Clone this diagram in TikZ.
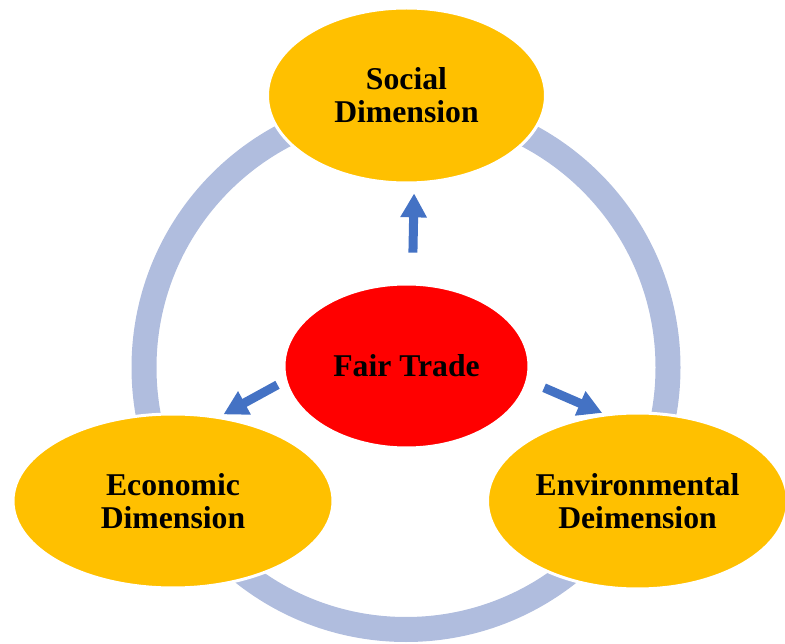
\documentclass[tikz,border=0pt]{standalone}
\usepackage{fontspec}
\setmainfont{Liberation Serif}
\usetikzlibrary{shapes.geometric,arrows.meta,positioning}
\definecolor{gold}{HTML}{FFC000}
\definecolor{ringblue}{HTML}{B0BDDE}
\definecolor{arrblue}{HTML}{4472C4}
\tikzset{dim/.style={ellipse,fill=gold,draw=white,line width=3pt,inner sep=0pt,align=center}}
\tikzset{arr/.style={draw=arrblue,line width=9pt,-{Triangle[length=24pt,width=25pt]}}}
\begin{document}
\begin{tikzpicture}[x=1pt,y=-1pt,on grid,font=\fontsize{31.7}{33}\selectfont\bfseries]
        \useasboundingbox (0,0) rectangle (785,644);
        % ring behind everything
        \draw[ringblue,line width=25pt] (406,367.5) circle[radius=262pt];
        \node(fair)[ellipse,fill=red,draw=white,line width=3pt,inner sep=0pt,
          minimum width=245pt,minimum height=164pt] at (406.5,366) {Fair Trade};
        \node(social)[dim,minimum width=278pt,minimum height=175pt,above=270.5pt of fair]
          {Social\\Dimension};
        \node(econ)[dim,minimum width=320pt,minimum height=174pt,below left=135pt and 233.5pt of fair]
          {Economic\\Dimension};
        \node(env)[dim,minimum width=300pt,minimum height=176pt,below right=135pt and 231pt of fair]
          {Environmental\\Deimension};
        \draw[arr,shorten <=30pt,shorten >=9pt] (fair.86) -- (social.275);
        \draw[arr,shorten <=8pt,shorten >=4pt] (fair.187) -- (econ.61);
        \draw[arr,shorten <=17pt,shorten >=2pt] (fair.353) -- (env.111);
      \end{tikzpicture}
\end{document}
